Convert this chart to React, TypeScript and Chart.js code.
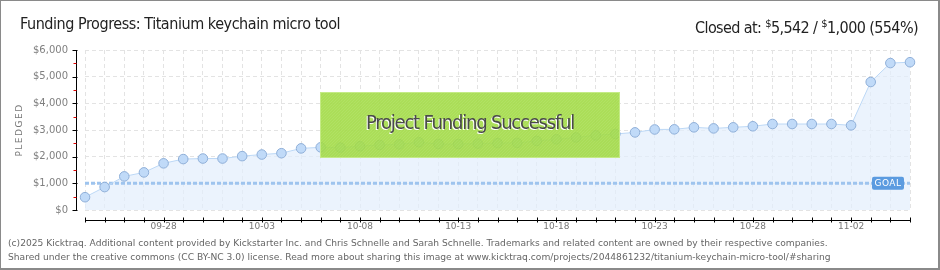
import React, { useEffect, useRef } from "react";
import { Chart, registerables } from "chart.js";

Chart.register(...registerables);

const dates: string[] = [
  "09-24", "09-25", "09-26", "09-27", "09-28", "09-29", "09-30",
  "10-01", "10-02", "10-03", "10-04", "10-05", "10-06", "10-07", "10-08", "10-09", "10-10",
  "10-11", "10-12", "10-13", "10-14", "10-15", "10-16", "10-17", "10-18", "10-19", "10-20",
  "10-21", "10-22", "10-23", "10-24", "10-25", "10-26", "10-27", "10-28", "10-29", "10-30",
  "10-31", "11-01", "11-02", "11-03", "11-04", "11-05",
];

const pledged: number[] = [
  480, 860, 1260, 1410, 1750, 1910, 1930, 1930, 2020, 2080, 2130,
  2310, 2350, 2340, 2390, 2440, 2460, 2540, 2475, 2475, 2490, 2510,
  2515, 2590, 2650, 2720, 2800, 2850, 2910, 3020, 3025, 3100, 3060,
  3100, 3140, 3225, 3225, 3225, 3225, 3175, 4800, 5510, 5542,
];

const goal = 1000;
const goalLine: number[] = dates.map(() => goal);
const shownDates: string[] = ["09-28", "10-03", "10-08", "10-13", "10-18", "10-23", "10-28", "11-02"];
const yMax = 6000;
const yStep = 1000;

const TITLE_FONT = '"Liberation Sans Narrow", "DejaVu Sans Condensed", "Liberation Sans", sans-serif';
const SMALL_FONT = '"DejaVu Sans", Verdana, sans-serif';

const overlayPlugin = {
  id: "kicktraqOverlay",
  afterDatasetsDraw(chart: any) {
    const { ctx, chartArea, scales } = chart;
    const y = scales.y;
    ctx.save();

    // Goal label
    const gy = y.getPixelForValue(goal);
    const gx1 = chartArea.right - 38;
    const gw = 32;
    const gh = 13;
    ctx.fillStyle = "#5b9be0";
    ctx.beginPath();
    (ctx as any).roundRect(gx1, gy - gh / 2, gw, gh, 2);
    ctx.fill();
    ctx.fillStyle = "#ffffff";
    ctx.font = "9px " + SMALL_FONT;
    (ctx as any).letterSpacing = "0.5px";
    ctx.textAlign = "center";
    ctx.textBaseline = "middle";
    ctx.fillText("GOAL", gx1 + gw / 2, gy + 0.5);
    (ctx as any).letterSpacing = "0px";

    // Success banner
    const bx = chartArea.left + 235;
    const by = chartArea.top + 42;
    const bw = 300;
    const bh = 66;
    ctx.fillStyle = "rgba(162,218,70,0.9)";
    ctx.fillRect(bx, by, bw, bh);
    ctx.save();
    ctx.beginPath();
    ctx.rect(bx, by, bw, bh);
    ctx.clip();
    ctx.strokeStyle = "rgba(255,255,255,0.07)";
    ctx.lineWidth = 1;
    for (let i = -bh; i < bw; i += 3) {
      ctx.beginPath();
      ctx.moveTo(bx + i, by + bh);
      ctx.lineTo(bx + i + bh, by);
      ctx.stroke();
    }
    ctx.restore();
    ctx.strokeStyle = "rgba(200,236,140,0.9)";
    ctx.lineWidth = 1;
    ctx.strokeRect(bx + 0.5, by + 0.5, bw - 1, bh - 1);
    ctx.font = "20px " + TITLE_FONT;
    (ctx as any).letterSpacing = "-1.2px";
    ctx.textAlign = "center";
    ctx.textBaseline = "middle";
    ctx.fillStyle = "#ffffff";
    ctx.fillText("Project Funding Successful", bx + bw / 2 - 1, by + bh / 2);
    ctx.fillStyle = "#4a4a4a";
    ctx.fillText("Project Funding Successful", bx + bw / 2, by + bh / 2 - 1);
    (ctx as any).letterSpacing = "0px";
    ctx.restore();
  },
  afterDraw(chart: any) {
    const { ctx, chartArea, scales } = chart;
    const x = scales.x;
    const y = scales.y;
    ctx.save();
    // Y axis line
    const ax = Math.round(chartArea.left - 9) + 0.5;
    ctx.strokeStyle = "#000";
    ctx.lineWidth = 1;
    ctx.beginPath();
    ctx.moveTo(ax, y.getPixelForValue(yMax));
    ctx.lineTo(ax, y.getPixelForValue(0) + 0.5);
    ctx.stroke();
    for (let v = 0; v <= yMax; v += yStep) {
      const py = Math.round(y.getPixelForValue(v)) + 0.5;
      ctx.strokeStyle = "#000";
      ctx.beginPath();
      ctx.moveTo(ax - 4, py);
      ctx.lineTo(ax + 1, py);
      ctx.stroke();
      if (v < yMax) {
        const my = Math.round(y.getPixelForValue(v + yStep / 2)) + 0.5;
        ctx.strokeStyle = "#e00000";
        ctx.beginPath();
        ctx.moveTo(ax - 3, my);
        ctx.lineTo(ax, my);
        ctx.stroke();
      }
    }
    // X axis line
    const ay = Math.round(chartArea.bottom + 10) + 0.5;
    ctx.strokeStyle = "#000";
    ctx.beginPath();
    ctx.moveTo(chartArea.left, ay);
    ctx.lineTo(chartArea.right + 1, ay);
    ctx.stroke();
    for (let i = 0; i < dates.length; i++) {
      const px = Math.round(x.getPixelForValue(i)) + 0.5;
      ctx.beginPath();
      ctx.moveTo(px, ay - 3);
      ctx.lineTo(px, ay + 2);
      ctx.stroke();
    }
    // PLEDGED title
    ctx.translate(20, (chartArea.top + chartArea.bottom) / 2);
    ctx.rotate(-Math.PI / 2);
    ctx.font = "9px " + SMALL_FONT;
    (ctx as any).letterSpacing = "1.5px";
    ctx.fillStyle = "#777";
    ctx.textAlign = "center";
    ctx.textBaseline = "middle";
    ctx.fillText("PLEDGED", 0, 0);
    ctx.restore();
  },
};

export default function App() {
  const canvasRef = useRef<HTMLCanvasElement | null>(null);

  useEffect(() => {
    document.body.style.margin = "0";
    const canvas = canvasRef.current;
    if (!canvas) return;
    const chart = new Chart(canvas, {
      type: "line",
      data: {
        labels: dates,
        datasets: [
          {
            label: "Goal",
            data: goalLine,
            borderColor: "#9ec4ee",
            borderWidth: 3,
            borderDash: [4, 2],
            pointRadius: 0,
            fill: false,
            order: 2,
          },
          {
            label: "Pledged",
            data: pledged,
            borderColor: "#bcd8f6",
            borderWidth: 1,
            backgroundColor: "rgba(226,238,252,0.7)",
            fill: "origin",
            pointRadius: 4.8,
            pointBackgroundColor: "#c0daf8",
            pointBorderColor: "#8fafd8",
            pointBorderWidth: 1,
            tension: 0,
            order: 1,
          },
        ],
      },
      options: {
        responsive: false,
        animation: false,
        layout: { padding: { left: 0, right: 30, top: 50, bottom: 40 } },
        plugins: {
          legend: { display: false },
          tooltip: { enabled: false },
          filler: { drawTime: "beforeDatasetsDraw" },
        } as any,
        scales: {
          x: {
            offset: false,
            border: { display: false, dash: [4, 3] },
            grid: { color: "#e3e3e3", drawTicks: false, lineWidth: 1 },
            ticks: {
              autoSkip: false,
              maxRotation: 0,
              padding: 11,
              color: "#777",
              font: { family: SMALL_FONT, size: 9 },
              callback: (_v: any, i: number) => (shownDates.includes(dates[i]) ? dates[i] : ""),
            },
            afterFit: (s: any) => {
              s.height = 20;
            },
          },
          y: {
            min: 0,
            max: yMax,
            border: { display: false, dash: [4, 3] },
            grid: { color: "#e3e3e3", drawTicks: false },
            ticks: {
              stepSize: yStep,
              padding: 17,
              color: "#808080",
              font: { family: SMALL_FONT, size: 10 },
              callback: (v: any) => "$" + Number(v).toLocaleString("en-US"),
            },
            afterFit: (s: any) => {
              s.width = 85;
            },
          },
        },
      },
      plugins: [overlayPlugin],
    });
    return () => chart.destroy();
  }, []);

  const sup: React.CSSProperties = { fontSize: "11px", verticalAlign: "6px" };

  return (
    <div style={{ position: "relative", width: 940, height: 270, background: "#fff", overflow: "hidden" }}>
      <canvas ref={canvasRef} width={940} height={270} style={{ position: "absolute", left: 0, top: 0 }} />
      <div
        style={{
          position: "absolute",
          left: 20,
          top: 15,
          font: "16px " + TITLE_FONT,
          letterSpacing: "-0.45px",
          lineHeight: "18px",
          color: "#222",
          whiteSpace: "nowrap",
        }}
      >
        Funding Progress: Titanium keychain micro tool
      </div>
      <div
        style={{
          position: "absolute",
          right: 22,
          top: 15,
          font: "16px " + TITLE_FONT,
          letterSpacing: "-0.6px",
          lineHeight: "18px",
          color: "#222",
          whiteSpace: "nowrap",
        }}
      >
        Closed at: <span style={sup}>$</span>5,542 / <span style={sup}>$</span>1,000 (554%)
      </div>
      <div
        style={{
          position: "absolute",
          left: 8,
          top: 236,
          font: "9.15px " + SMALL_FONT,
          lineHeight: "14px",
          color: "#666",
          whiteSpace: "nowrap",
        }}
      >
        (c)2025 Kicktraq. Additional content provided by Kickstarter Inc. and Chris Schnelle and Sarah Schnelle. Trademarks and related content are owned by their respective companies.
        <br />
        Shared under the creative commons (CC BY-NC 3.0) license. Read more about sharing this image at www.kicktraq.com/projects/2044861232/titanium-keychain-micro-tool/#sharing
      </div>
      <div
        style={{
          position: "absolute",
          left: 0,
          top: 0,
          width: 940,
          height: 270,
          boxSizing: "border-box",
          borderStyle: "solid",
          borderColor: "#8a8a8a",
          borderWidth: "1px 2px 2px 1px",
          pointerEvents: "none",
        }}
      />
    </div>
  );
}
